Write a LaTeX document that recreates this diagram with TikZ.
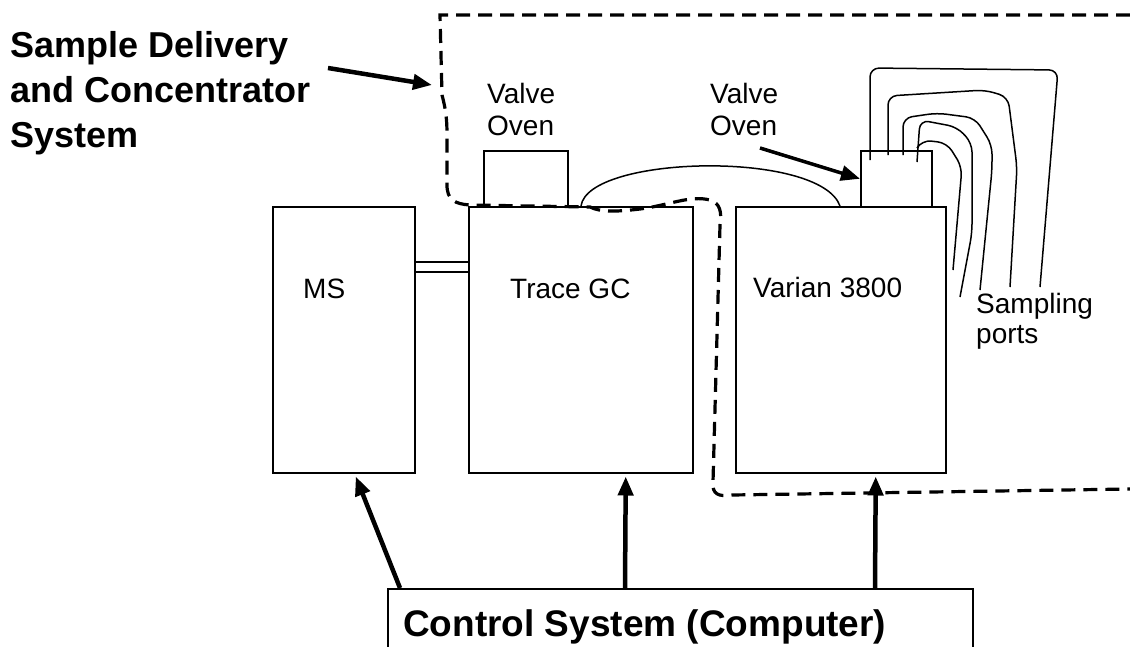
\documentclass[tikz,border=0pt]{standalone}
\usepackage{fontspec}
\setmainfont{Liberation Sans}
\usetikzlibrary{arrows.meta,calc}

\tikzset{
  unit/.style={draw, line width=1.5pt, inner sep=0pt, anchor=north west},
  bigarrow/.style={-{Triangle[length=19pt,width=15pt]}, line width=4.5pt},
  boundary/.style={line width=3.2pt, dash pattern=on 14pt off 8pt},
  pipe/.style={line width=1.5pt, rounded corners=9pt},
}

\begin{document}
\begin{tikzpicture}[x=1pt, y=-1pt, font=\fontsize{28}{32}\selectfont]
  \useasboundingbox (0,0) rectangle (1130,646);
  % instruments
  \node [unit, minimum width=142pt, minimum height=266pt] (ms) at (272,206) {};
  \node [unit, minimum width=224pt, minimum height=266pt] (gc) at (468,206) {};
  \node [unit, minimum width=210pt, minimum height=266pt] (varian) at (735,206) {};
  \node [unit, minimum width=84pt, minimum height=56pt] (ov1) at (483,150) {};
  \node [unit, minimum width=71pt, minimum height=56pt] (ov2) at (860,150) {};
  \node [unit, minimum width=585pt, minimum height=80pt] (ctl) at (387,588) {};
  \node [anchor=base west, inner sep=0pt] (mslabel) at (303,298) {MS};
  \node [anchor=base west, inner sep=0pt] (gclabel) at (510,298) {Trace GC};
  \node [anchor=base west, inner sep=0pt] (varianlabel) at (753,297) {Varian 3800};
  \node [anchor=base west, inner sep=0pt, font=\fontsize{37}{44}\selectfont\bfseries] (ctllabel) at (403,636) {Control System (Computer)};
  \node [anchor=north west, inner sep=0pt, align=left] (ov1label) at (487,83) {Valve\\Oven};
  \node [anchor=north west, inner sep=0pt, align=left] (ov2label) at (710,83) {Valve\\Oven};
  \node [anchor=north west, inner sep=0pt, align=left, font=\fontsize{28}{30}\selectfont] (ports) at (976,293) {Sampling\\ports};
  \node [anchor=north west, inner sep=0pt, align=left, font=\fontsize{36}{45}\selectfont\bfseries] (title) at (10,31) {Sample Delivery\\and Concentrator\\System};
  % transfer lines
  \draw [line width=1.5pt] (ms.east |- 0,262) -- (gc.west |- 0,262);
  \draw [line width=1.5pt] (ms.east |- 0,272) -- (gc.west |- 0,272);
  \draw [line width=1.5pt] (581,206) .. controls (588,155) and (820,150) .. (840,206);
  % sampling ports
  \draw [pipe] (870,160) -- (870,68) -- (1058,70) -- (1040,287);
  \draw [pipe] (888,155) -- (888,96) -- (985,90) -- (1008,97) -- (1017,167) -- (1010,287);
  \draw [pipe] (903,155) -- (903,118) -- (937,113) -- (975,118) -- (992,145) -- (992,170) -- (980,290);
  \draw [pipe] (917,162) -- (920,120) -- (957,127) -- (972,143) -- (972,233) -- (960,297);
  \draw [pipe] (917,148) -- (922,140) -- (947,143) -- (962,167) -- (953,270);
  % system boundary
  \draw [boundary] (1130,15) -- (440,15) -- (442,95) .. controls (446,110) and (447,120) .. (447,135) -- (447,185)
    .. controls (447,200) and (455,204) .. (470,205) -- (590,207) .. controls (600,212) and (615,212) .. (640,209)
    .. controls (670,205) and (690,195) .. (710,200) .. controls (720,203) and (722,212) .. (720,225) -- (713,482)
    .. controls (712,494) and (718,497) .. (732,495) -- (1130,489);
  % arrows
  \coordinate (titletip) at (432,85);
  \draw [bigarrow] (328,68) -- (titletip);
  \draw [bigarrow, line width=3.5pt] (760,148) -- (ov2.west);
  \draw [bigarrow] ($(ctl.north west)+(13,0)$) -- ($(ms.south)+(12,3)$);
  \draw [bigarrow] ($(ctl.north west)+(238,0)$) -- ($(gc.south)+(45,3)$);
  \draw [bigarrow] ($(ctl.north west)+(488,0)$) -- ($(varian.south)+(35,3)$);
\end{tikzpicture}
\end{document}
